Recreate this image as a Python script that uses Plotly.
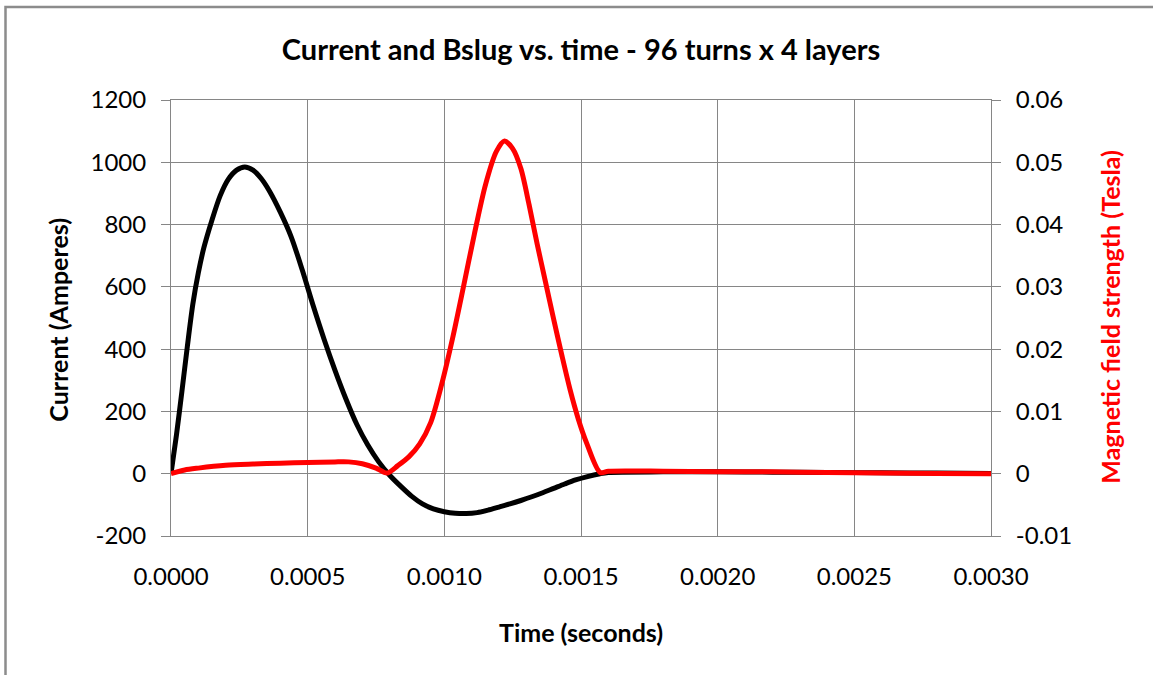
import plotly.graph_objects as go

# ---- data ----
time_current = [0, 0.00002, 0.00004, 0.00006, 0.00008, 0.0001, 0.00012, 0.00015, 0.00018, 0.00021,
                0.00024, 0.00027, 0.0003, 0.00033, 0.00036, 0.0004, 0.00044, 0.00048, 0.00052, 0.00056,
                0.0006, 0.00064, 0.00068, 0.00072, 0.00076, 0.0008, 0.00084, 0.00088, 0.00092, 0.00096,
                0.001, 0.00104, 0.00108, 0.00112, 0.00116, 0.0012, 0.00124, 0.00128, 0.00132, 0.00136,
                0.0014, 0.00144, 0.00148, 0.00152, 0.00157, 0.0016, 0.0018, 0.002, 0.0022, 0.0024,
                0.0026, 0.0028, 0.003]
current_amps = [0, 125, 265, 410, 545, 645, 725, 815, 893, 946,
                975, 985, 975, 948, 908, 840, 760, 655, 540, 432,
                332, 240, 158, 92, 38, -5, -40, -72, -97, -113,
                -122, -127, -128, -125, -117, -107, -97, -86, -74, -61,
                -47, -33, -20, -10, 0, 4, 6, 6, 5, 4,
                3, 2, 1]

time_field = [0, 0.00005, 0.0001, 0.0002, 0.0003, 0.0004, 0.0005, 0.0006, 0.00065, 0.0007,
              0.00075, 0.00079, 0.00083, 0.00087, 0.00091, 0.00095, 0.00099, 0.00103, 0.00107, 0.00111,
              0.00115, 0.00119, 0.00122, 0.00125, 0.00128, 0.00131, 0.00134, 0.00137, 0.0014, 0.00143,
              0.00146, 0.00149, 0.00152, 0.00157, 0.0016, 0.0018, 0.002, 0.0022, 0.0024, 0.0026,
              0.0028, 0.003]
field_tesla = [0, 0.0006, 0.0009, 0.00135, 0.00155, 0.0017, 0.0018, 0.0019, 0.0019, 0.0016,
               0.0009, 0.0001, 0.0013, 0.0027, 0.0048, 0.0082, 0.0143, 0.0217, 0.030, 0.0385,
               0.0463, 0.0517, 0.0534, 0.0522, 0.049, 0.0432, 0.0368, 0.0308, 0.0248, 0.019,
               0.0135, 0.0088, 0.005, 0.0002, 0.0004, 0.0004, 0.0003, 0.0003, 0.0002, 0.0001,
               0.00005, 0.0]

x_tick_vals = [0, 0.0005, 0.001, 0.0015, 0.002, 0.0025, 0.003]
x_tick_text = ["0.0000", "0.0005", "0.0010", "0.0015", "0.0020", "0.0025", "0.0030"]
y_tick_vals = [-200, 0, 200, 400, 600, 800, 1000, 1200]
y_tick_text = ["-200", "0", "200", "400", "600", "800", "1000", "1200"]
y2_tick_vals = [-0.01, 0, 0.01, 0.02, 0.03, 0.04, 0.05, 0.06]
y2_tick_text = ["-0.01", "0", "0.01", "0.02", "0.03", "0.04", "0.05", "0.06"]

FONT = "Lato"
GRID = "#868686"
TICK_SIZE = 24

fig = go.Figure()
fig.add_trace(go.Scatter(x=time_current, y=current_amps, mode="lines", name="Current",
                         line=dict(color="black", width=5, shape="spline", smoothing=0.8),
                         yaxis="y"))
fig.add_trace(go.Scatter(x=time_field, y=field_tesla, mode="lines", name="Bslug",
                         line=dict(color="#ff0000", width=5, shape="spline", smoothing=0.8),
                         yaxis="y2"))

fig.update_layout(
    width=1153, height=675,
    margin=dict(l=171, r=162, t=100, b=139),
    paper_bgcolor="white", plot_bgcolor="white",
    showlegend=False,
    font=dict(family=FONT, size=TICK_SIZE, color="black"),
    title=dict(text="<b>Current and Bslug vs. time - 96 turns x 4 layers</b>",
               x=0.5, xref="paper", y=1 - 50 / 675, yref="container",
               xanchor="center", yanchor="middle",
               font=dict(family=FONT, size=29, color="black")),
    xaxis=dict(range=[0, 0.003], tickvals=x_tick_vals, ticktext=x_tick_text,
               showgrid=True, gridcolor=GRID, gridwidth=1,
               showline=True, linecolor=GRID, linewidth=1, mirror=True,
               ticks="outside", ticklen=19, tickcolor="rgba(0,0,0,0)",
               zeroline=False, tickfont=dict(size=TICK_SIZE)),
    yaxis=dict(range=[-200, 1200], tickvals=y_tick_vals, ticktext=y_tick_text,
               showgrid=True, gridcolor=GRID, gridwidth=1,
               showline=True, linecolor=GRID, linewidth=1, mirror=True,
               ticks="outside", ticklen=9, tickcolor=GRID,
               zeroline=False, tickfont=dict(size=TICK_SIZE), ticklabelstandoff=10),
    yaxis2=dict(range=[-0.01, 0.06], tickvals=y2_tick_vals, ticktext=y2_tick_text,
                overlaying="y", side="right", showgrid=False, zeroline=False,
                showline=True, linecolor=GRID, linewidth=1,
                ticks="outside", ticklen=9, tickcolor=GRID,
                tickfont=dict(size=TICK_SIZE), ticklabelstandoff=10),
)

plot_l, plot_w = 171, 820
plot_b, plot_h = 536.3, 435.9

def px_x(px):
    return (px - plot_l) / plot_w

def px_y(py):
    return (plot_b - py) / plot_h

fig.add_annotation(text="<b>Current (Amperes)</b>", textangle=-90,
                   x=px_x(58), y=px_y(320), xref="paper", yref="paper",
                   showarrow=False, xanchor="center", yanchor="middle",
                   font=dict(family=FONT, size=25, color="black"))
fig.add_annotation(text="<b>Magnetic field strength (Tesla)</b>", textangle=-90,
                   x=px_x(1110), y=px_y(318), xref="paper", yref="paper",
                   showarrow=False, xanchor="center", yanchor="middle",
                   font=dict(family=FONT, size=25, color="#ff0000"))
fig.add_annotation(text="<b>Time (seconds)</b>",
                   x=px_x(581), y=px_y(632), xref="paper", yref="paper",
                   showarrow=False, xanchor="center", yanchor="middle",
                   font=dict(family=FONT, size=25, color="black"))

fig.add_shape(type="rect", xref="paper", yref="paper",
              x0=px_x(5.5), y0=px_y(900), x1=px_x(1400), y1=px_y(7.5),
              line=dict(color="#8c8c8c", width=2.5), fillcolor="rgba(0,0,0,0)", layer="above")

fig.write_html("out.html")
